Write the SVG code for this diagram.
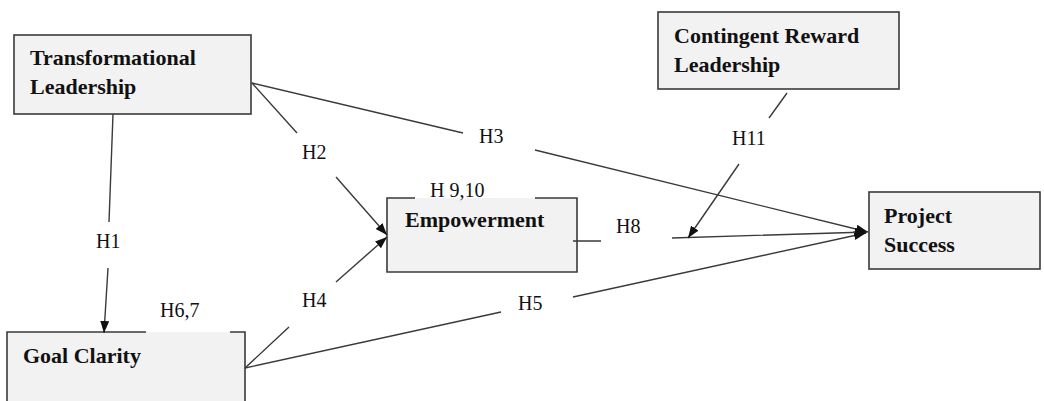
<svg xmlns="http://www.w3.org/2000/svg" width="1044" height="401" viewBox="0 0 1044 401">
<style>
.box{fill:#f2f2f2;stroke:#3a3a3a;stroke-width:1.6}
.edge{fill:none;stroke:#3a3a3a;stroke-width:1.4}
.nt{font-family:"Liberation Serif",serif;font-weight:bold;font-size:22px;fill:#111}
.lb{font-family:"Liberation Serif",serif;font-size:20px;fill:#111}
</style>
<defs>
<marker id="ah" markerUnits="userSpaceOnUse" markerWidth="13" markerHeight="10" refX="12" refY="4.5" orient="auto">
<path d="M0,0 L12,4.5 L0,9 z" fill="#111"/>
</marker>
</defs>
<rect width="1044" height="401" fill="#fff"/>
<g id="transformational">
<rect class="box" x="14" y="35" width="237" height="79"/>
<text class="nt" x="30" y="65">Transformational</text>
<text class="nt" x="30" y="94">Leadership</text>
</g>
<g id="contingent">
<rect class="box" x="658" y="12" width="241" height="77"/>
<text class="nt" x="674" y="43">Contingent Reward</text>
<text class="nt" x="674" y="72">Leadership</text>
</g>
<g id="empowerment">
<rect x="387" y="198" width="190" height="74" fill="#f2f2f2"/>
<path class="edge" style="stroke-width:1.6" d="M415,198 L387,198 L387,272 L577,272 L577,198 L535,198"/>
<text class="nt" x="405" y="227">Empowerment</text>
</g>
<g id="project">
<rect class="box" x="869" y="192" width="171" height="77"/>
<text class="nt" x="884" y="223">Project</text>
<text class="nt" x="884" y="252">Success</text>
</g>
<g id="goal">
<rect x="7" y="332" width="238" height="72" fill="#f2f2f2"/>
<path class="edge" style="stroke-width:1.6" d="M146,332 L7,332 L7,404 M245,404 L245,332 L230,332"/>
<text class="nt" x="23" y="363">Goal Clarity</text>
</g>
<g id="connectors">
<path class="edge" d="M113,114 L109,222 M108,268 L104,333" marker-end="url(#ah)"/>
<path class="edge" d="M252,83 L297,133 M336,177 L387,235" marker-end="url(#ah)"/>
<path class="edge" d="M252,83 L463,133 M535,150 L868,232" marker-end="url(#ah)"/>
<path class="edge" d="M245,368 L289,327 M336,282 L387,237" marker-end="url(#ah)"/>
<path class="edge" d="M245,368 L501,312 M573,297 L866,233" marker-end="url(#ah)"/>
<path class="edge" d="M573,241 L601,241 M672,238 L867,232" marker-end="url(#ah)"/>
<path class="edge" d="M787,93 L769,118 M739,164 L688,238" marker-end="url(#ah)"/>
</g>
<g id="labels">
<text class="lb" x="96" y="248">H1</text>
<text class="lb" x="302" y="159">H2</text>
<text class="lb" x="479" y="143">H3</text>
<text class="lb" x="302" y="307">H4</text>
<text class="lb" x="518" y="310">H5</text>
<text class="lb" x="616" y="233">H8</text>
<text class="lb" x="732" y="145">H11</text>
<text class="lb" x="430" y="197">H 9,10</text>
<text class="lb" x="160" y="317">H6,7</text>
</g>
</svg>
